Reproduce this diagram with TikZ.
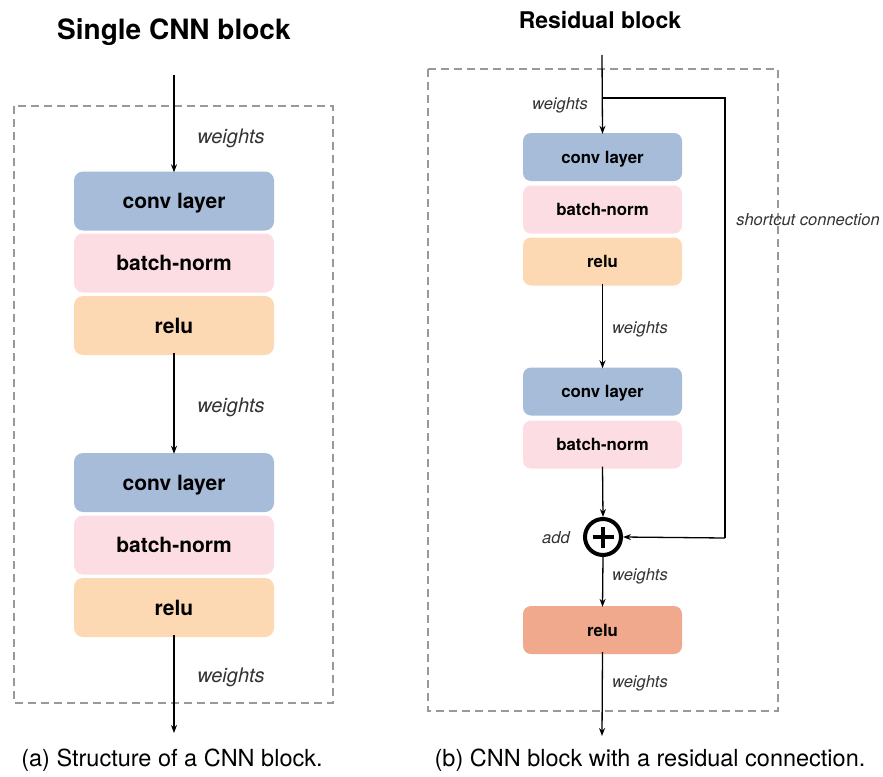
\documentclass[tikz,border=0pt]{standalone}
\usepackage{fontspec}
\setmainfont{TeX Gyre Heros}
\usetikzlibrary{arrows.meta}
\definecolor{convblue}{HTML}{A6BCD9}
\definecolor{bnpink}{HTML}{FCDDE3}
\definecolor{reluorange}{HTML}{FDD9B3}
\definecolor{relusalmon}{HTML}{F0A98C}
\definecolor{framegray}{HTML}{999999}
\definecolor{labelgray}{HTML}{333333}
\tikzset{
  layerbig/.style={rounded corners=9pt, minimum width=200pt, minimum height=59pt,
    inner sep=0pt, text height=15pt, text depth=0pt,
    font=\fontsize{21}{24}\selectfont\bfseries},
  layersmall/.style={rounded corners=8pt, minimum width=159pt, minimum height=48pt,
    inner sep=0pt, text height=12pt, text depth=0pt,
    font=\fontsize{16.8}{19}\selectfont\bfseries},
  flow/.style={line width=1.3pt, -{Stealth[length=8pt,width=6pt]}},
  plainline/.style={line width=1.3pt},
  wlabbig/.style={font=\fontsize{20}{23}\selectfont\itshape, text=labelgray},
  wlabsmall/.style={font=\fontsize{16.5}{19}\selectfont\itshape, text=labelgray},
  frame/.style={draw=framegray, line width=1.2pt, dash pattern=on 8pt off 5pt},
}
\begin{document}
\begin{tikzpicture}[x=1pt,y=-1pt]
\useasboundingbox (0,0) rectangle (883,776);

% ---------- (a) single CNN block ----------
\node[font=\fontsize{28}{32}\selectfont\bfseries] (titleA) at (174,32) {Single CNN block};
\draw[frame] (14,106) rectangle (333,703);

\coordinate (inA) at (174,75);
\node[layerbig, fill=convblue] (convA1) at (174,201) {conv layer};
\node[layerbig, fill=bnpink] (bnA1) at (174,263) {batch-norm};
\node[layerbig, fill=reluorange] (reluA1) at (174,325.5) {relu};
\node[layerbig, fill=convblue] (convA2) at (174,482.5) {conv layer};
\node[layerbig, fill=bnpink] (bnA2) at (174,545) {batch-norm};
\node[layerbig, fill=reluorange] (reluA2) at (174,607.5) {relu};
\coordinate (outA) at (174,733);

\draw[flow] (inA) -- ([yshift=-1pt]convA1.north);
\draw[flow] ([yshift=2pt]reluA1.south) -- ([yshift=-1pt]convA2.north);
\draw[flow] ([yshift=2pt]reluA2.south) -- (outA);

\node[wlabbig] (wA1) at (231,138.5) {weights};
\node[wlabbig] (wA2) at (231,407.5) {weights};
\node[wlabbig] (wA3) at (231,677.5) {weights};

\node[font=\fontsize{23.5}{27}\selectfont] (capA) at (172,760) {(a) Structure of a CNN block.};

% ---------- (b) residual block ----------
\node[font=\fontsize{23}{27}\selectfont\bfseries] (titleB) at (600,20) {Residual block};
\draw[frame] (428,69) rectangle (778,711);

\coordinate (inB) at (602,55);
\coordinate (split) at (602,98);
\coordinate (skipTop) at (725,98);
\coordinate (skipBot) at (725,538);
\node[layersmall, fill=convblue] (convB1) at (602.5,157) {conv layer};
\node[layersmall, fill=bnpink] (bnB1) at (602.5,209.5) {batch-norm};
\node[layersmall, fill=reluorange] (reluB1) at (602.5,261.5) {relu};
\node[layersmall, fill=convblue] (convB2) at (602.5,391.5) {conv layer};
\node[layersmall, fill=bnpink] (bnB2) at (602.5,444.5) {batch-norm};
\node[circle, draw, line width=4pt, minimum size=36pt, inner sep=0pt] (add) at (603,537) {};
\draw[line width=4pt] ([xshift=-10.5pt]add.center) -- ([xshift=10.5pt]add.center)
                      ([yshift=-10.5pt]add.center) -- ([yshift=10.5pt]add.center);
\node[layersmall, fill=relusalmon] (reluB2) at (602.5,630) {relu};
\coordinate (outB) at (602,736);

\draw[flow] (inB) -- ([yshift=-1pt]convB1.north);
\draw[plainline] (split) -- (skipTop) -- (skipBot);
\draw[flow] (skipBot) -- (add.east);
\draw[flow] ([yshift=2pt]reluB1.south) -- ([yshift=-1pt]convB2.north);
\draw[flow] ([yshift=2pt]bnB2.south) -- (add.north);
\draw[flow] (add.south) -- ([yshift=-1pt]reluB2.north);
\draw[flow] ([yshift=2pt]reluB2.south) -- (outB);

\node[wlabsmall] (wB1) at (560,105) {weights};
\node[wlabsmall] (wB2) at (640,329) {weights};
\node[wlabsmall] (wB3) at (640,576) {weights};
\node[wlabsmall] (wB4) at (640,683) {weights};
\node[wlabsmall] (addlab) at (556,538) {add};
\node[wlabsmall] (skiplab) at (808,220) {shortcut connection};

\node[font=\fontsize{23.5}{27}\selectfont] (capB) at (650,760) {(b) CNN block with a residual connection.};
\end{tikzpicture}
\end{document}
